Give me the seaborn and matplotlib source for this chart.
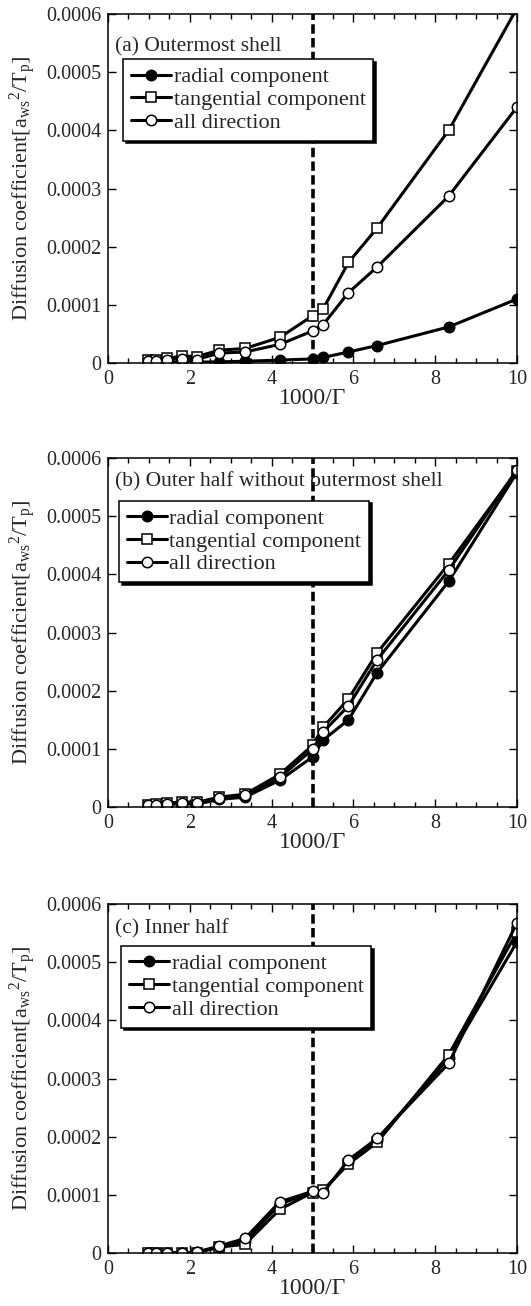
import matplotlib
matplotlib.use("Agg")
import matplotlib.pyplot as plt
import seaborn as sns
import pandas as pd
from matplotlib.ticker import MultipleLocator, FuncFormatter

sns.set_style("ticks")
plt.rcParams['font.family'] = ['Liberation Serif', 'DejaVu Serif']
plt.rcParams['mathtext.fontset'] = 'custom'
plt.rcParams['mathtext.rm'] = 'Liberation Serif'
plt.rcParams['mathtext.it'] = 'Liberation Serif:italic'

# ---- data ----
x_vals = [0.97, 1.18, 1.45, 1.82, 2.17, 2.72, 3.35, 4.20, 5.00, 5.26, 5.88, 6.58, 8.33, 10.0]

a_radial = [0.5e-6, 0.8e-6, 1.0e-6, 1.3e-6, 1.5e-6, 2e-6, 3e-6, 5e-6, 7e-6, 9.5e-6, 19e-6, 30e-6, 62e-6, 110e-6]
a_tangential = [5e-6, 5e-6, 8e-6, 12e-6, 11e-6, 22e-6, 25e-6, 44e-6, 81e-6, 93e-6, 173e-6, 232e-6, 400e-6, 610e-6]
a_all = [3.4e-6, 3.4e-6, 6e-6, 7e-6, 6e-6, 17e-6, 19e-6, 32e-6, 55e-6, 66e-6, 121e-6, 165e-6, 287e-6, 440e-6]

b_radial = [2e-6, 2.5e-6, 4e-6, 6e-6, 5e-6, 13e-6, 17e-6, 46e-6, 86e-6, 115e-6, 150e-6, 231e-6, 388e-6, 575e-6]
b_tangential = [4e-6, 4.5e-6, 6.5e-6, 9e-6, 8e-6, 17e-6, 22e-6, 56e-6, 106e-6, 137e-6, 186e-6, 265e-6, 418e-6, 578e-6]
b_all = [3e-6, 3.5e-6, 5.5e-6, 7.5e-6, 6.5e-6, 15e-6, 20e-6, 51e-6, 99e-6, 129e-6, 174e-6, 253e-6, 407e-6, 580e-6]

c_radial = [0, 0, 0, 0.3e-6, 1e-6, 11e-6, 20e-6, 84e-6, 105e-6, 106e-6, 156e-6, 195e-6, 335e-6, 535e-6]
c_tangential = [0, 0, 0, 0, 0.5e-6, 10e-6, 15e-6, 75e-6, 104e-6, 108e-6, 153e-6, 190e-6, 341e-6, 552e-6]
c_all = [0, 0, 0, 0.3e-6, 1.5e-6, 12e-6, 25e-6, 88e-6, 106e-6, 104e-6, 160e-6, 197e-6, 326e-6, 568e-6]

panel_titles = ["(a) Outermost shell", "(b) Outer half without outermost shell", "(c) Inner half"]
series_labels = ["radial component", "tangential component", "all direction"]
x_ticks = [0, 2, 4, 6, 8, 10]
y_ticks = [0, 0.0001, 0.0002, 0.0003, 0.0004, 0.0005, 0.0006]
vline_x = 5.0

panels = [
    (a_radial, a_tangential, a_all),
    (b_radial, b_tangential, b_all),
    (c_radial, c_tangential, c_all),
]

# ---- layout ----
W, H = 531, 1306
fig = plt.figure(figsize=(W / 100, H / 100), dpi=100)
left = 108 / W
width = 409 / W
height = 349 / H
bottoms_px = [363, 807, 1253]
title_y = [0.905, 0.932, 0.930]
leg_anchor = [(0.037, 0.871), (0.027, 0.878), (0.032, 0.880)]

styles = [
    dict(marker='o', markerfacecolor='black'),
    dict(marker='s', markerfacecolor='white'),
    dict(marker='o', markerfacecolor='white'),
]

for i, (series, title) in enumerate(zip(panels, panel_titles)):
    ax = fig.add_axes([left, 1 - bottoms_px[i] / H, width, height])
    for vals, lab, st in zip(series, series_labels, styles):
        df = pd.DataFrame({"x": x_vals, "y": vals})
        sns.lineplot(data=df, x="x", y="y", ax=ax, color='black', linewidth=2.2,
                     markersize=7.5, markeredgecolor='black', markeredgewidth=1.1,
                     estimator=None, sort=False, label=lab, **st)
    ax.axvline(vline_x, color='black', linewidth=2.6, linestyle=(0, (2.6, 1.2)), zorder=1)
    ax.set_xlim(0, 10)
    ax.set_ylim(0, 0.0006)
    ax.set_xticks(x_ticks)
    ax.set_yticks(y_ticks)
    ax.xaxis.set_minor_locator(MultipleLocator(0.5))
    ax.xaxis.set_major_formatter(FuncFormatter(lambda v, p: f"{v:g}"))
    ax.yaxis.set_major_formatter(FuncFormatter(lambda v, p: "0" if abs(v) < 1e-12 else f"{v:.4f}"))
    ax.tick_params(which='both', direction='in', top=True, right=True, color='black')
    ax.tick_params(which='major', length=6, width=1.0, labelsize=14.5, pad=5)
    ax.tick_params(which='minor', length=3.5, width=1.0)
    for sp in ax.spines.values():
        sp.set_linewidth(1.1)
        sp.set_color('black')
    ax.set_xlabel("1000/Γ", fontsize=17, va='top')
    ax.xaxis.set_label_coords(0.5, -0.072)
    ax.set_ylabel(r"Diffusion coefficient[$\mathrm{a_{ws}}^{2}$/$\mathrm{T_p}$]", fontsize=16)
    ax.yaxis.set_label_coords(-0.17, 0.5)
    ax.text(0.018, title_y[i], title, transform=ax.transAxes, fontsize=15.5, va='center', ha='left')
    leg = ax.legend(loc='upper left', bbox_to_anchor=leg_anchor[i], borderaxespad=0,
                    fontsize=16, frameon=True, fancybox=False,
                    shadow={'color': 'black', 'alpha': 1.0},
                    handlelength=1.8, handletextpad=0.12, labelspacing=0.1,
                    borderpad=0.35)
    leg.get_frame().set_edgecolor('black')
    leg.get_frame().set_linewidth(1.1)
    leg.get_frame().set_alpha(1.0)

fig.savefig("out.png", dpi=100)
